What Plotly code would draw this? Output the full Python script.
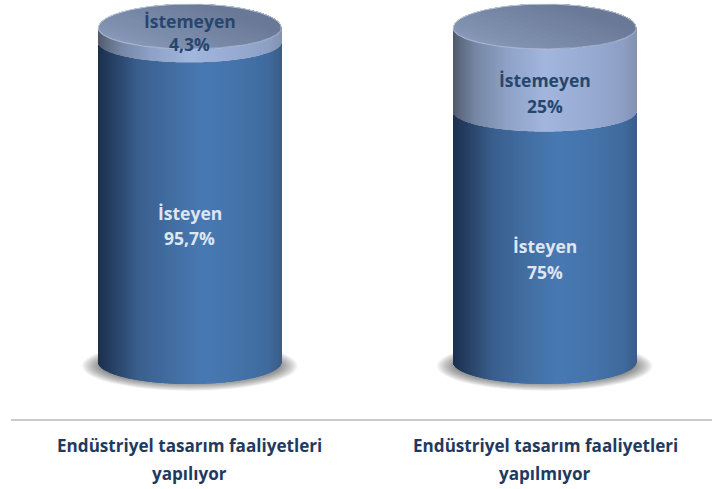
import numpy as np
import plotly.graph_objects as go

# Data
group_line1 = ["Endüstriyel tasarım faaliyetleri", "Endüstriyel tasarım faaliyetleri"]
group_line2 = ["yapılıyor", "yapılmıyor"]
isteyen_values = [95.7, 75.0]
istemeyen_values = [4.3, 25.0]
isteyen_labels = ["95,7%", "75%"]
istemeyen_labels = ["4,3%", "25%"]
series_names = ["İsteyen", "İstemeyen"]

# Layout (x axis in page pixels, y axis in percent; 1 percent = PX pixels)
W, H = 712, 489
PX = 3.34
BASE_PX = 362.0
def y_of(p):
    return (BASE_PX - p) / PX
centers = [189.8, 544.7]
HALF = 91.5
BOTTOM_SEMI, SPLIT_SEMI, FACE_UP, FACE_LOW = 22, 20, 24, 21

body_stops = [(0, "#1b2f4c"), (.05, "#223a5c"), (.13, "#2d4b72"), (.22, "#3a5f8e"), (.4, "#426ea2"),
              (.57, "#4979b3"), (.76, "#4574ab"), (.93, "#3f6b9e"), (1, "#3b5e88")]
wall_stops = [(0, "#4e5869"), (.05, "#616e85"), (.13, "#7788a6"), (.3, "#8fa3c8"), (.5, "#a2b6de"),
              (.75, "#98acd3"), (.93, "#8d9fc4"), (1, "#8493b2")]

def hex2rgb(h):
    return np.array([int(h[i:i + 2], 16) for i in (1, 3, 5)], float)

def grad(stops, t):
    ts = [s[0] for s in stops]
    cols = np.array([hex2rgb(s[1]) for s in stops])
    return ["rgb(%d,%d,%d)" % tuple(np.interp(v, ts, cols[:, i]) for i in range(3)) for v in t]

fig = go.Figure()
shapes = []
annotations = []

for i, cx in enumerate(centers):
    xs = np.arange(np.ceil(cx - HALF), np.floor(cx + HALF) + 1)
    u = (xs - cx) / HALF
    arc = np.sqrt(np.clip(1 - u ** 2, 0, 1))
    t = (u + 1) / 2
    split = isteyen_values[i]
    total = split + istemeyen_values[i]
    bottom = 0 - BOTTOM_SEMI / PX * arc
    mid = split - SPLIT_SEMI / PX * arc
    fig.add_bar(x=xs, base=bottom, y=mid - bottom, width=1.3, marker=dict(color=grad(body_stops, t), line_width=0),
                name=series_names[0], showlegend=False, hoverinfo="skip")
    fig.add_bar(x=xs, base=mid, y=total - mid, width=1.3, marker=dict(color=grad(wall_stops, t), line_width=0),
                name=series_names[1], showlegend=False, hoverinfo="skip")

    # soft ground shadow
    n = 22
    for k in range(n):
        f = k / (n - 1)
        sx, sy = 108 - 20 * f, 25 - 9 * f
        cy = y_of(366)
        shapes.append(dict(type="circle", layer="below", xref="x", yref="y", x0=cx - sx, x1=cx + sx,
                           y0=cy - sy / PX, y1=cy + sy / PX, fillcolor="rgba(60,60,60,0.034)", line_width=0))

    # top face with a diagonal gradient, painted from chords of the ellipse
    layers = 28
    phi = np.deg2rad(35)  # towards upper right gets darker
    c0, c1 = hex2rgb("#8c9dbd"), hex2rgb("#6a7997")
    for k in range(layers):
        f = k / (layers - 1)
        alpha = np.pi * (1 - f) if k else np.pi
        th = np.linspace(phi - alpha, phi + alpha, 160)
        px_, py_ = np.cos(th), np.sin(th)
        fx = cx + HALF * px_
        fy = total + np.where(py_ > 0, FACE_UP, FACE_LOW) * py_ / PX
        col = c0 + (c1 - c0) * min(f * 1.35, 1)
        fig.add_scatter(x=fx, y=fy, mode="lines", line_width=0, fill="toself", showlegend=False, hoverinfo="skip",
                        fillcolor="rgb(%d,%d,%d)" % tuple(col))
    th = np.linspace(0, np.pi, 120)
    fig.add_scatter(x=cx + HALF * np.cos(th), y=total + FACE_UP * np.sin(th) / PX, mode="lines",
                    line=dict(color="rgba(215,222,235,0.8)", width=1), showlegend=False, hoverinfo="skip")
    fig.add_scatter(x=cx + HALF * np.cos(th), y=total - FACE_LOW * np.sin(th) / PX, mode="lines",
                    line=dict(color="rgba(190,204,230,0.55)", width=1.2), showlegend=False, hoverinfo="skip")

label_px = [dict(i1=213, i2=238, o1=21, o2=44), dict(i1=246, i2=272, o1=80, o2=106)]
for i, cx in enumerate(centers):
    lp = label_px[i]
    for txt, p, col in [(series_names[0], lp["i1"], "#dfe6f1"), (isteyen_labels[i], lp["i2"], "#dfe6f1"),
                        (series_names[1], lp["o1"], "#27466e"), (istemeyen_labels[i], lp["o2"], "#27466e")]:
        annotations.append(dict(x=cx, y=y_of(p), text=txt, showarrow=False, xref="x", yref="y",
                                font=dict(family="Open Sans", size=17.5, color=col, weight=700)))
    for txt, p in [(group_line1[i], 445), (group_line2[i], 473)]:
        annotations.append(dict(x=cx + (-0.5 if i == 0 else 0.5), y=y_of(p), text=txt, showarrow=False, xref="x", yref="y",
                                font=dict(family="Open Sans", size=17.1, color="#1f3a60", weight=700)))

shapes.append(dict(type="line", xref="x", yref="y", x0=11, x1=712, y0=y_of(420), y1=y_of(420),
                   line=dict(color="#b8b8b8", width=1.5)))

fig.update_layout(
    width=W, height=H, autosize=False, margin=dict(l=0, r=0, t=0, b=0), barmode="overlay",
    paper_bgcolor="white", plot_bgcolor="white", showlegend=False, shapes=shapes, annotations=annotations,
    xaxis=dict(range=[0, W], visible=False, fixedrange=True),
    yaxis=dict(range=[y_of(H), y_of(0)], visible=False, fixedrange=True),
)
fig.write_html("out.html", config=dict(displayModeBar=False),
               post_script="document.body.style.margin='0';document.body.style.overflow='hidden';")
